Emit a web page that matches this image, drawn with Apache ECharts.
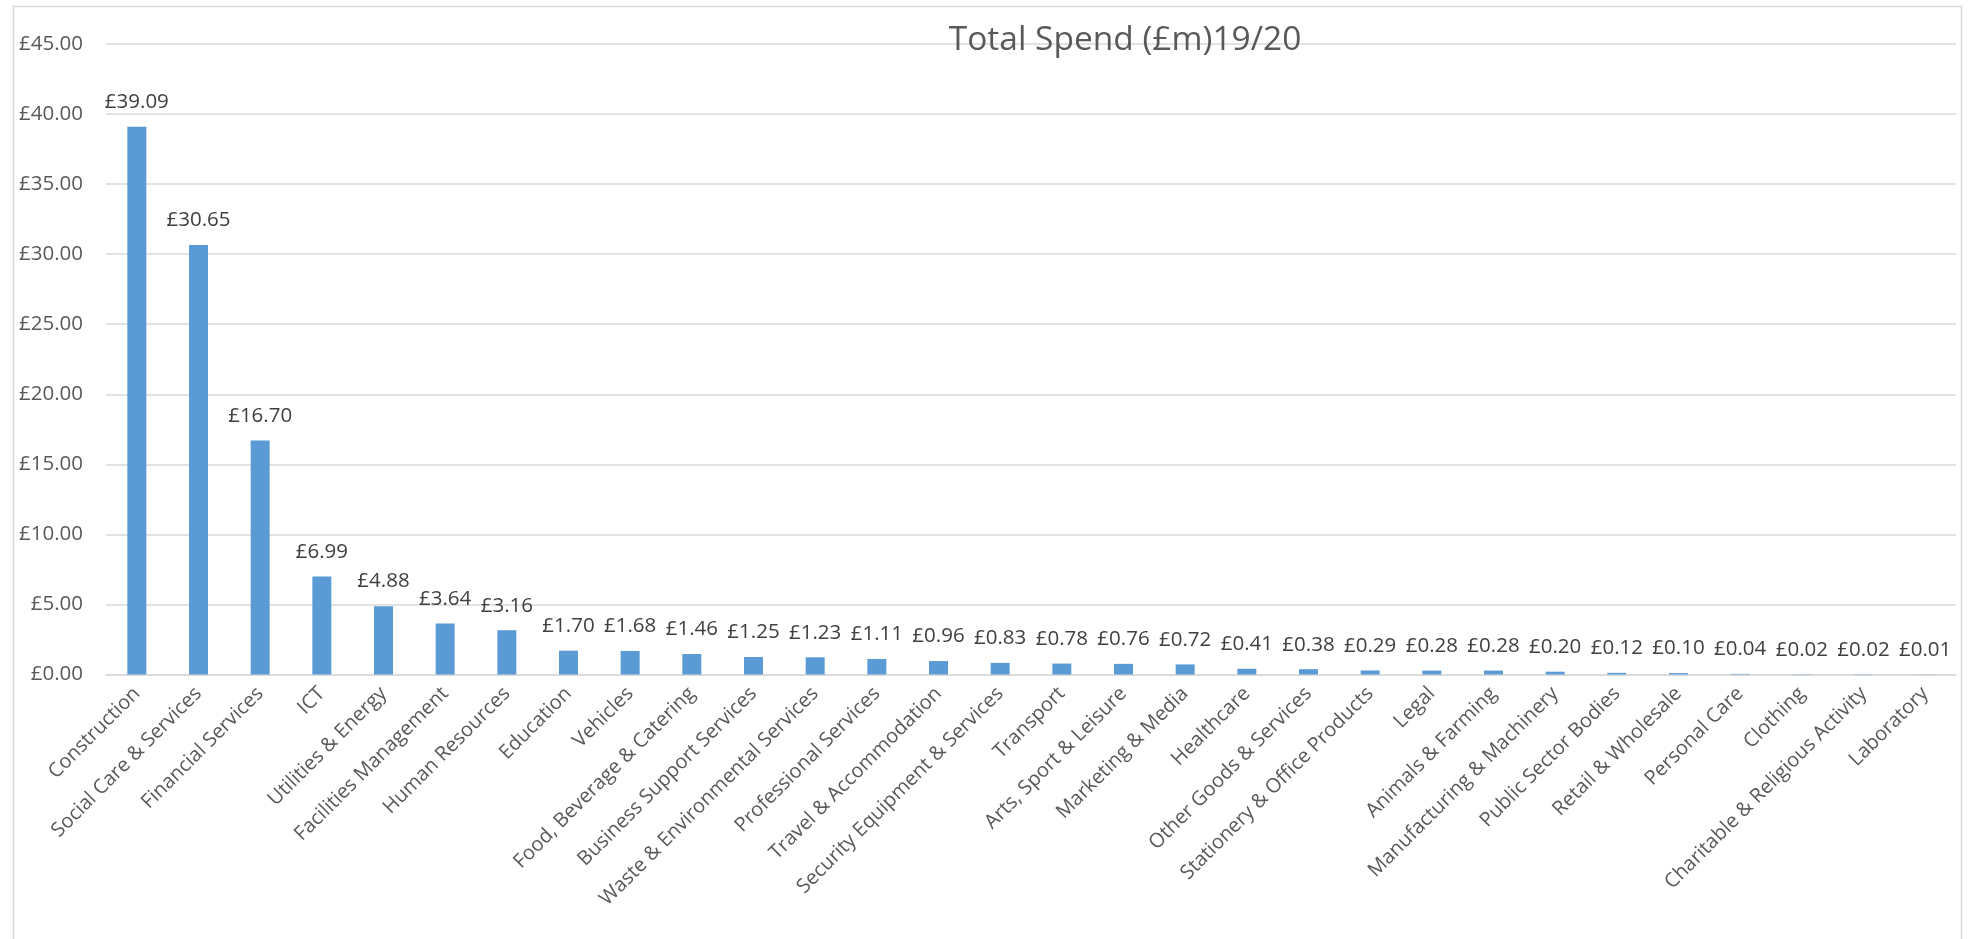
<!DOCTYPE html>
<html>
<head>
<meta charset="utf-8">
<script src="https://cdn.jsdelivr.net/npm/echarts@6/dist/echarts.min.js"></script>
<style>
html,body{margin:0;padding:0;background:#fff;}
#chart{width:1975px;height:939px;}
</style>
</head>
<body>
<div id="chart"></div>
<script>
const titleText = 'Total Spend (£m)19/20';
const categories = [
  'Construction','Social Care & Services','Financial Services','ICT','Utilities & Energy',
  'Facilities Management','Human Resources','Education','Vehicles','Food, Beverage & Catering',
  'Business Support Services','Waste & Environmental Services','Professional Services',
  'Travel & Accommodation','Security Equipment & Services','Transport','Arts, Sport & Leisure',
  'Marketing & Media','Healthcare','Other Goods & Services','Stationery & Office Products',
  'Legal','Animals & Farming','Manufacturing & Machinery','Public Sector Bodies',
  'Retail & Wholesale','Personal Care','Clothing','Charitable & Religious Activity','Laboratory'
];
const spend = [
  39.09,30.65,16.70,6.99,4.88,3.64,3.16,1.70,1.68,1.46,
  1.25,1.23,1.11,0.96,0.83,0.78,0.76,0.72,0.41,0.38,
  0.29,0.28,0.28,0.20,0.12,0.10,0.04,0.02,0.02,0.01
];
const yMin = 0, yMax = 45, yStep = 5;

const FONT = '"Open Sans", "Noto Sans", sans-serif';
const chart = echarts.init(document.getElementById('chart'), null, {renderer:'canvas'});
chart.setOption({
  backgroundColor: '#ffffff',
  animation: false,
  title: {
    text: titleText,
    left: 1120, top: 18,
    textAlign: 'center',
    textStyle: {fontFamily: FONT, fontSize: 33.5, fontWeight: 'normal', color: '#595959'}
  },
  graphic: [{
    type: 'rect', silent: true, z: -1,
    shape: {x: 13.5, y: 6.5, width: 1948, height: 945},
    style: {fill: 'none', stroke: '#D9D9D9', lineWidth: 1.5}
  }],
  grid: {left: 106, right: 19, top: 44, bottom: 264.5, containLabel: false},
  xAxis: {
    type: 'category',
    data: categories,
    axisLine: {show: true, lineStyle: {color: '#D9D9D9', width: 1.5}},
    axisTick: {show: false},
    axisLabel: {
      interval: 0, rotate: 45, margin: 16,
      fontFamily: FONT, fontSize: 20, color: '#595959'
    }
  },
  yAxis: {
    type: 'value',
    min: yMin, max: yMax, interval: yStep,
    axisLine: {show: false},
    axisTick: {show: false},
    splitLine: {lineStyle: {color: '#D9D9D9', width: 1.5}},
    axisLabel: {
      margin: 23,
      fontFamily: FONT, fontSize: 20.5, color: '#595959',
      formatter: v => '£' + v.toFixed(2)
    }
  },
  series: [{
    type: 'bar',
    data: spend,
    barWidth: 19,
    itemStyle: {color: '#5B9BD5'},
    label: {
      show: true, position: 'top', distance: 14,
      fontFamily: FONT, fontSize: 20.5, color: '#404040',
      formatter: p => '£' + p.value.toFixed(2)
    }
  }]
});
</script>
</body>
</html>
